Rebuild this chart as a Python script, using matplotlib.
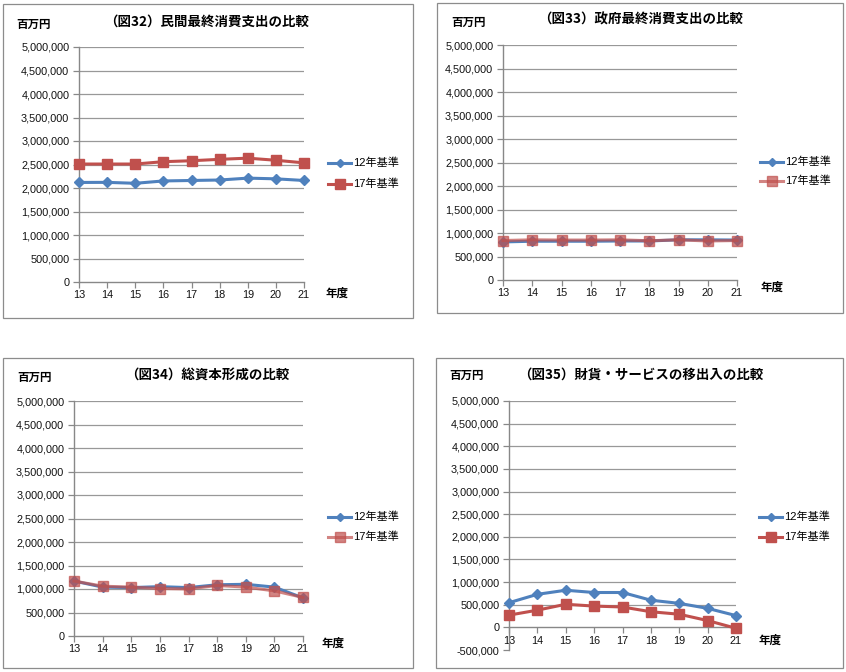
import matplotlib
matplotlib.use("Agg")
import matplotlib.pyplot as plt
from matplotlib.patches import Rectangle
from matplotlib.ticker import FuncFormatter

plt.rcParams['font.family'] = ['Liberation Sans', 'Noto Sans CJK JP', 'DejaVu Sans']

W, H = 846, 672
years = [13, 14, 15, 16, 17, 18, 19, 20, 21]
labels = ["12年基準", "17年基準"]

titles = ["（図32）民間最終消費支出の比較",
          "（図33）政府最終消費支出の比較",
          "（図34）総資本形成の比較",
          "（図35）財貨・サービスの移出入の比較"]

# 百万円
s32_12 = [2118000, 2120000, 2100000, 2150000, 2160000, 2170000, 2210000, 2195000, 2160000]
s32_17 = [2510000, 2510000, 2510000, 2560000, 2580000, 2610000, 2635000, 2590000, 2535000]
s33_12 = [810000, 825000, 825000, 825000, 830000, 830000, 855000, 855000, 850000]
s33_17 = [840000, 855000, 850000, 850000, 855000, 835000, 855000, 830000, 840000]
s34_12 = [1170000, 1040000, 1030000, 1050000, 1030000, 1090000, 1100000, 1040000, 810000]
s34_17 = [1170000, 1060000, 1040000, 1010000, 1000000, 1075000, 1040000, 960000, 820000]
s35_12 = [545000, 730000, 820000, 770000, 770000, 600000, 530000, 420000, 260000]
s35_17 = [270000, 380000, 510000, 470000, 450000, 345000, 290000, 150000, -20000]

series = [(s32_12, s32_17), (s33_12, s33_17), (s34_12, s34_17), (s35_12, s35_17)]

# panel layout in pixels: frame box, plot box, title centre, unit label, 年度 label, legend
panels = [
    dict(frame=(3, 4, 413, 318), plot=(79, 47, 304, 282), ymin=0, title=(207, 22),
         unit=(34, 24), nendo=(337, 293), leg=(328, 163, 184), alpha=1.0),
    dict(frame=(437, 3, 843, 313), plot=(503, 45, 737, 280), ymin=0, title=(641, 20),
         unit=(469, 22), nendo=(772, 287), leg=(760, 162, 181), alpha=0.7),
    dict(frame=(3, 358, 413, 668), plot=(74, 401, 303, 636), ymin=0, title=(207, 375),
         unit=(35, 377), nendo=(333, 643), leg=(328, 517, 537), alpha=0.7),
    dict(frame=(436, 358, 843, 668), plot=(509, 401, 736, 650), ymin=-500000, title=(641, 375),
         unit=(467, 375), nendo=(770, 640), leg=(759, 517, 537), alpha=1.0),
]

blue = '#4f81bd'
red = '#c0504d'
grid_c = '#989898'
axis_c = '#888888'


def fx(x):
    return x / W


def fy(y):
    return 1 - y / H


fig = plt.figure(figsize=(W / 100, H / 100), dpi=100)

for p, title, (a, b) in zip(panels, titles, series):
    x0, y0, x1, y1 = p['frame']
    fig.patches.append(Rectangle((fx(x0), fy(y1)), fx(x1 - x0), (y1 - y0) / H,
                                 transform=fig.transFigure, fill=False,
                                 edgecolor='#8c8c8c', linewidth=0.9))
    px0, py0, px1, py1 = p['plot']
    ax = fig.add_axes([fx(px0), fy(py1), fx(px1 - px0), (py1 - py0) / H])
    ax.set_xlim(13, 21)
    ax.set_ylim(p['ymin'], 5000000)
    ax.set_yticks(range(p['ymin'], 5000001, 500000))
    ax.set_xticks(years)
    ax.yaxis.set_major_formatter(FuncFormatter(lambda v, pos: f"{int(v):,}"))
    for yv in range(500000, 5000001, 500000):
        ax.axhline(yv, color=grid_c, lw=0.9, zorder=0)
    for s in ['top', 'right']:
        ax.spines[s].set_visible(False)
    ax.spines['left'].set_color(axis_c)
    ax.spines['bottom'].set_color(axis_c)
    ax.spines['left'].set_linewidth(1.0)
    ax.spines['bottom'].set_linewidth(1.0)
    if p['ymin'] < 0:
        ax.spines['bottom'].set_position(('data', 0))
    ax.tick_params(axis='both', colors=axis_c, labelcolor='#111111', labelsize=7.8,
                   length=4, width=0.9)
    ax.tick_params(axis='x', pad=2)
    ax.tick_params(axis='y', pad=3)

    ax.plot(years, a, color=blue, lw=2.2, marker='D', markersize=5,
            clip_on=False, zorder=3)
    ax.plot(years, b, color=red, lw=2.2, marker='s', markersize=6.5,
            alpha=p['alpha'], clip_on=False, zorder=4)

    # legend drawn beside the plot
    lx, ly1, ly2 = p['leg']
    for yy, col, mk, ms, al, lab in [(ly1, blue, 'D', 4.5, 1.0, labels[0]),
                                     (ly2, red, 's', 6.5, p['alpha'], labels[1])]:
        fig.add_artist(plt.Line2D([fx(lx), fx(lx + 23)], [fy(yy), fy(yy)],
                                  transform=fig.transFigure, color=col, lw=2.2, alpha=al))
        fig.add_artist(plt.Line2D([fx(lx + 11.5)], [fy(yy)], transform=fig.transFigure,
                                  color=col, marker=mk, markersize=ms, alpha=al))
        fig.text(fx(lx + 25), fy(yy), lab, fontsize=8, va='center', ha='left')

    fig.text(fx(p['title'][0]), fy(p['title'][1]), title, fontsize=9.7,
             fontweight='bold', ha='center', va='center', family='Noto Sans CJK JP')
    fig.text(fx(p['unit'][0]), fy(p['unit'][1]), "百万円", fontsize=8.3,
             fontweight='bold', ha='center', va='center', family='Noto Sans CJK JP')
    fig.text(fx(p['nendo'][0]), fy(p['nendo'][1]), "年度", fontsize=8.3,
             fontweight='bold', ha='center', va='center', family='Noto Sans CJK JP')

fig.savefig("out.png", dpi=100)
